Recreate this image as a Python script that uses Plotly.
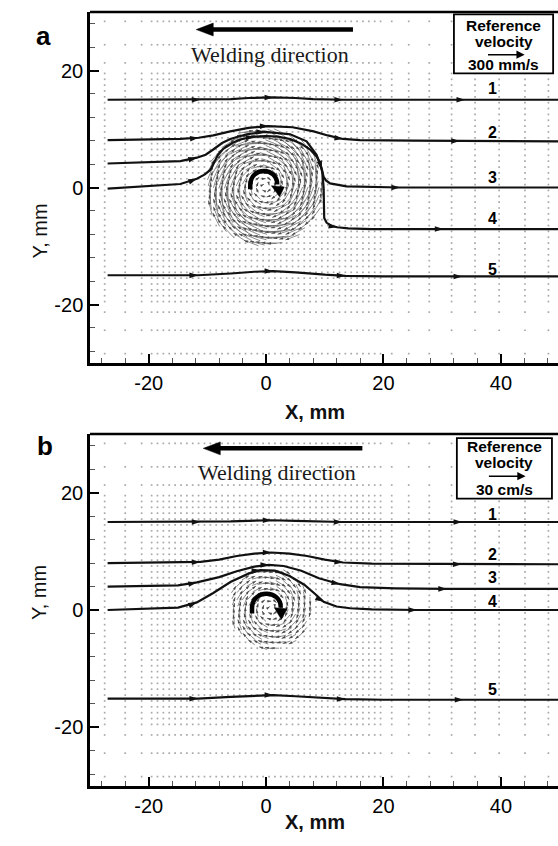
import math
import plotly.graph_objects as go

# ---------------- figure geometry ----------------
W, H = 558, 846
ML, MR, MT, MB = 90, 0, 12, 60
PW = W - ML - MR
PH = H - MT - MB
SANS = "Liberation Sans, Arial, sans-serif"
SERIF = "Liberation Serif, Times New Roman, serif"


def paper(px, py):
    return (px - ML) / PW, (H - MB - py) / PH


X_RANGE = [-30, 49.73]
Y_RANGE = [-30, 30]
X_TICKS = [-20, 0, 20, 40]
X_TICK_TEXT = ["-20", "0", "20", "40"]
Y_TICKS = [-20, 0, 20]
Y_TICK_TEXT = ["-20", "0", "20"]

# ---------------- computational mesh (node coordinates, mm) ----------------
MESH_X = [-27.5, -24.0, -21.2,
          -19.5, -18.5, -17.5, -16.5, -15.5, -14.5, -13.5, -12.5, -11.5, -10.5,
          -9.5, -8.5, -7.5, -6.5, -5.5, -4.5, -3.5, -2.5, -1.5, -0.5,
          0.5, 1.5, 2.5, 3.5, 4.5, 5.5, 6.5, 7.5, 8.5, 9.5,
          10.5, 11.5, 12.5, 13.5, 14.5, 15.5, 16.5, 17.5, 18.5, 19.5,
          21.4, 24.3, 27.8, 31.6, 35.6, 39.7, 44.1, 48.1]
MESH_Y = [-28.4, -24.4, -21.3,
          -19.5, -18.5, -17.5, -16.5, -15.5, -14.5, -13.5, -12.5, -11.5, -10.5,
          -9.5, -8.5, -7.5, -6.5, -5.5, -4.5, -3.5, -2.5, -1.5, -0.5,
          0.5, 1.5, 2.5, 3.5, 4.5, 5.5, 6.5, 7.5, 8.5, 9.5,
          10.5, 11.5, 12.5, 13.5, 14.5, 15.5, 16.5, 17.5, 18.5, 19.5,
          21.3, 24.4, 28.4]

# ---------------- vortex (swirl) ----------------
# speed of the material per 1-mm ring around the vortex centre
VORT_A_CENTER = (-0.3, 0.2)
VORT_A_RING_SPEED = [15, 40, 70, 100, 125, 145, 160, 160, 150, 120]   # mm/s
VORT_A_REF_SPEED = 300.0                                            # mm/s
VORT_B_CENTER = (0.7, 0.3)
VORT_B_RING_SPEED = [1.5, 3.5, 6.0, 8.0, 9.0, 8.5, 6.5]                # cm/s
VORT_B_REF_SPEED = 30.0                                             # cm/s
REF_ARROW_MM = 6.5
SPIRAL_TILT_DEG = 8

# ---------------- streamlines, panel a ----------------
A1X = [-27, -11.2, -6, -3, 1.2, 5, 8, 13.1, 20, 33.9, 49.73]
A1Y = [15.0, 15.0, 15.1, 15.3, 15.4, 15.3, 15.1, 15.0, 15.0, 15.0, 15.0]
A1_ARROWS = [1, 4, 7, 9]
A2X = [-27, -14.6, -11.5, -9, -6.1, -3, 0.4, 4.5, 8.1, 10.5, 13.1, 16, 25, 33, 49.73]
A2Y = [8.1, 8.3, 8.5, 8.9, 9.6, 10.2, 10.5, 10.3, 9.6, 8.9, 8.3, 8.1, 8.0, 7.95, 7.9]
A2_ARROWS = [2, 6, 10, 13]
A3X = [-27, -14.6, -11.8, -10.3, -9, -7.5, -6.1, -3.3, -0.2, 4.1, 6.9, 8.6, 9.5, 9.8,
       10.2, 10.9, 13.7, 18, 22.8, 49.73]
A3Y = [4.1, 4.5, 5.1, 5.6, 6.5, 7.6, 8.3, 9.1, 9.5, 9.1, 7.9, 5.6, 3.1, 1.8,
       1.2, 0.7, 0.2, 0.05, 0.0, 0.0]
A3_ARROWS = [2, 8, 12, 18]
A4X = [-27, -14.6, -11.8, -10.5, -9.5, -9, -8.3, -7.3, -5.8, -4.4, -2, 0, 2, 4.1, 6,
       7.5, 8.6, 9.2, 9.6, 9.8, 9.8, 9.9, 10.3, 11, 12.1, 14, 18, 30.2, 49.73]
A4Y = [-0.2, 0.6, 1.5, 2.2, 3.0, 4.0, 5.4, 6.6, 7.6, 8.2, 8.7, 8.8, 8.7, 8.3, 7.5,
       6.5, 5.3, 4.2, 2.5, 0.0, -3.0, -5.2, -6.0, -6.5, -6.8, -7.0, -7.1, -7.1, -7.1]
A4_ARROWS = [2, 10, 24, 27]
A5X = [-27, -11.6, -6, -2, 1.2, 5, 10, 13.5, 20, 33.4, 49.73]
A5Y = [-15.0, -15.0, -14.7, -14.4, -14.3, -14.5, -14.9, -15.1, -15.2, -15.2, -15.2]
A5_ARROWS = [1, 4, 7, 9]

# ---------------- streamlines, panel b ----------------
B1X = [-27, -11.2, -6, -3, 0.9, 5, 8, 13, 20, 33.4, 49.73]
B1Y = [15.0, 15.0, 15.1, 15.2, 15.3, 15.2, 15.1, 15.0, 15.0, 15.0, 15.0]
B1_ARROWS = [1, 4, 7, 9]
B2X = [-27, -11.2, -8, -5, -2, 0.9, 4, 7, 10, 13.1, 18, 33.3, 49.73]
B2Y = [8.0, 8.2, 8.6, 9.2, 9.6, 9.8, 9.6, 9.2, 8.6, 8.1, 7.9, 7.8, 7.8]
B2_ARROWS = [1, 5, 9, 11]
B3X = [-27, -15, -11.8, -8, -5, -2, 0.5, 3, 6, 9, 12.6, 16, 22, 30.8, 49.73]
B3Y = [4.0, 4.2, 4.7, 5.6, 6.6, 7.4, 7.7, 7.5, 6.7, 5.4, 4.4, 3.9, 3.7, 3.6, 3.6]
B3_ARROWS = [2, 6, 10, 13]
B4X = [-27, -15, -11.8, -9, -6, -3, -1, 1.5, 4, 6.5, 8.5, 9.8, 12, 14.3, 18, 25.7, 49.73]
B4Y = [0.0, 0.4, 1.3, 2.9, 4.8, 6.2, 6.8, 6.7, 5.8, 4.3, 2.6, 1.4, 0.6, 0.3, 0.1, 0.0, 0.0]
B4_ARROWS = [2, 6, 11, 15]
B5X = [-27, -11.6, -6, -2, 1.2, 5, 10, 13.5, 20, 33.6, 49.73]
B5Y = [-15.1, -15.1, -14.8, -14.6, -14.5, -14.7, -15.0, -15.2, -15.3, -15.3, -15.3]
B5_ARROWS = [1, 4, 7, 9]

LINE_LABELS = ["1", "2", "3", "4", "5"]
LABEL_X = 38.5
A_LABEL_Y = [16.9, 9.4, 1.7, -5.3, -14.0]
B_LABEL_Y = [16.2, 9.4, 5.5, 1.4, -13.6]

REF_TEXT = ["300 mm/s", "30 cm/s"]

fig = go.Figure()


def add_panel(xa, ya, streams, center, ring_speed, ref_speed):
    # background mesh dots
    dx, dy = [], []
    for y in MESH_Y:
        for x in MESH_X:
            r = math.hypot(x - center[0], y - center[1])
            if r < len(ring_speed):
                continue
            dx.append(x)
            dy.append(y)
    fig.add_trace(go.Scatter(x=dx, y=dy, mode="markers", xaxis=xa, yaxis=ya,
                             marker=dict(symbol="square", size=1.7, color="#a8a8a8",
                                         line=dict(width=0)),
                             hoverinfo="skip"))
    # vortex vectors
    sx, sy, hx, hy, ha = [], [], [], [], []
    tilt = math.radians(SPIRAL_TILT_DEG)
    for y in MESH_Y:
        for x in MESH_X:
            rx, ry = x - center[0], y - center[1]
            r = math.hypot(rx, ry)
            if r >= len(ring_speed) or r < 0.05:
                continue
            sp = ring_speed[int(r)]
            L = sp / ref_speed * REF_ARROW_MM
            tx, ty = ry / r, -rx / r
            nx, ny = -rx / r, -ry / r
            ux = math.cos(tilt) * tx + math.sin(tilt) * nx
            uy = math.cos(tilt) * ty + math.sin(tilt) * ny
            x0, y0 = x - 0.5 * L * ux, y - 0.5 * L * uy
            x1, y1 = x + 0.5 * L * ux, y + 0.5 * L * uy
            sx += [x0, x1, None]
            sy += [y0, y1, None]
            hx.append(x1)
            hy.append(y1)
            ha.append(90 - math.degrees(math.atan2(uy, ux)))
    fig.add_trace(go.Scatter(x=sx, y=sy, mode="lines", xaxis=xa, yaxis=ya,
                             line=dict(color="#5a5a5a", width=0.7), hoverinfo="skip"))
    fig.add_trace(go.Scatter(x=hx, y=hy, mode="markers", xaxis=xa, yaxis=ya,
                             marker=dict(symbol="arrow", size=4, angle=ha,
                                         color="#4a4a4a", line=dict(width=0)),
                             hoverinfo="skip"))
    # streamlines
    for sxl, syl, idx in streams:
        fig.add_trace(go.Scatter(x=sxl, y=syl, mode="lines", xaxis=xa, yaxis=ya,
                                 line=dict(color="#111111", width=2.2),
                                 hoverinfo="skip"))
        ax_, ay_, aa_ = [], [], []
        for i in idx:
            ddx = sxl[i + 1] - sxl[i - 1]
            ddy = syl[i + 1] - syl[i - 1]
            ax_.append(sxl[i])
            ay_.append(syl[i])
            aa_.append(90 - math.degrees(math.atan2(ddy, ddx)))
        fig.add_trace(go.Scatter(x=ax_, y=ay_, mode="markers", xaxis=xa, yaxis=ya,
                                 marker=dict(symbol="arrow", size=9, angle=aa_,
                                             color="#111111", line=dict(width=0)),
                                 hoverinfo="skip"))


add_panel("x", "y",
          [(A1X, A1Y, A1_ARROWS), (A2X, A2Y, A2_ARROWS), (A3X, A3Y, A3_ARROWS),
           (A4X, A4Y, A4_ARROWS), (A5X, A5Y, A5_ARROWS)],
          VORT_A_CENTER, VORT_A_RING_SPEED, VORT_A_REF_SPEED)
add_panel("x2", "y2",
          [(B1X, B1Y, B1_ARROWS), (B2X, B2Y, B2_ARROWS), (B3X, B3Y, B3_ARROWS),
           (B4X, B4Y, B4_ARROWS), (B5X, B5Y, B5_ARROWS)],
          VORT_B_CENTER, VORT_B_RING_SPEED, VORT_B_REF_SPEED)


def axis_common(ticks, text, rng, domain, anchor):
    return dict(range=rng, domain=domain, anchor=anchor,
                tickmode="array", tickvals=ticks, ticktext=text,
                ticks="inside", ticklen=9, tickwidth=2, tickcolor="black",
                minor=dict(ticks="inside", ticklen=5, tickwidth=1, tickcolor="#555555",
                           dtick=4, tick0=0),
                showline=True, linewidth=2.5, linecolor="black",
                showgrid=False, zeroline=False,
                tickfont=dict(family=SANS, size=20, color="black"),
                fixedrange=True)


YA_DOM = [(H - MB - 363) / PH, 1.0]
YB_DOM = [0.0, (H - MB - 434) / PH]

shapes = []
annotations = []

panels = [
    dict(x="x", y="y", weld_y=27.0, weld_tip=-11.9, weld_tail=14.8, weld_text=(0.6, 22.7),
         box=(32.0, 48.9, 19.5, 29.6), ref_y=[27.7, 25.0, 22.7, 21.0],
         labels=A_LABEL_Y, ref=REF_TEXT[0],
         curl="M -2.7,-0.3 L -2.7,0.4 C -2.7,3.6 1.9,3.6 1.9,0.5",
         head="M 0.9,0.3 L 3.1,0.1 L 2.3,-1.6 Z",
         panel_label=("a", 34, 19), xtitle_py=412, ytitle_py=202),
    dict(x="x2", y="y2", weld_y=27.55, weld_tip=-10.7, weld_tail=16.4, weld_text=(1.8, 23.5),
         box=(32.5, 48.7, 19.0, 29.3), ref_y=[27.9, 25.1, 22.8, 20.6],
         labels=B_LABEL_Y, ref=REF_TEXT[1],
         curl="M -2.4,-0.6 L -2.4,0.3 C -2.4,3.6 2.5,3.6 2.5,0.4",
         head="M 1.4,0.4 L 3.6,0.2 L 2.6,-1.6 Z",
         panel_label=("b", 34.5, 446), xtitle_py=835, ytitle_py=622.5),
]

for p in panels:
    xr, yr = p["x"], p["y"]
    # top frame line
    shapes.append(dict(type="line", xref=f"{xr} domain", yref=f"{yr} domain",
                       x0=0, x1=1, y0=1, y1=1, line=dict(color="black", width=2.5)))
    # welding direction arrow
    head_len = 2.9
    shapes.append(dict(type="line", xref=xr, yref=yr, x0=p["weld_tip"] + head_len - 0.3,
                       x1=p["weld_tail"], y0=p["weld_y"], y1=p["weld_y"],
                       line=dict(color="black", width=4.5)))
    t = p["weld_tip"]
    wy = p["weld_y"]
    shapes.append(dict(type="path", xref=xr, yref=yr,
                       path=f"M {t},{wy} L {t + head_len},{wy + 1.1} L {t + head_len},{wy - 1.1} Z",
                       fillcolor="black", line=dict(color="black", width=0.5)))
    annotations.append(dict(xref=xr, yref=yr, x=p["weld_text"][0], y=p["weld_text"][1],
                            text="Welding direction", showarrow=False,
                            font=dict(family=SERIF, size=22, color="#1a1a1a")))
    # reference velocity box
    bx0, bx1, by0, by1 = p["box"]
    shapes.append(dict(type="rect", xref=xr, yref=yr, x0=bx0, x1=bx1, y0=by0, y1=by1,
                       fillcolor="white", line=dict(color="black", width=1.8)))
    bc = (bx0 + bx1) / 2
    for txt, yy in zip(["Reference", "velocity", p["ref"]],
                       [p["ref_y"][0], p["ref_y"][1], p["ref_y"][3]]):
        annotations.append(dict(xref=xr, yref=yr, x=bc, y=yy, text=f"<b>{txt}</b>",
                                showarrow=False,
                                font=dict(family=SANS, size=15.5, color="black")))
    annotations.append(dict(xref=xr, yref=yr, axref=xr, ayref=yr,
                            x=bc + 3.6, y=p["ref_y"][2], ax=bc - 2.9, ay=p["ref_y"][2],
                            text="", showarrow=True, arrowhead=2, arrowsize=1.1,
                            arrowwidth=1.5, arrowcolor="black"))
    # streamline numbers
    for lab, ly in zip(LINE_LABELS, p["labels"]):
        annotations.append(dict(xref=xr, yref=yr, x=LABEL_X, y=ly, text=f"<b>{lab}</b>",
                                showarrow=False,
                                font=dict(family=SANS, size=16, color="black")))
    # rotation symbol
    shapes.append(dict(type="path", xref=xr, yref=yr, path=p["curl"],
                       line=dict(color="black", width=4.5)))
    shapes.append(dict(type="path", xref=xr, yref=yr, path=p["head"],
                       fillcolor="black", line=dict(color="black", width=0.5)))
    # panel letter and axis titles
    lab, lpx, lpy = p["panel_label"]
    px_, py_ = paper(lpx, lpy)
    annotations.append(dict(xref="paper", yref="paper", x=px_, y=py_, text=f"<b>{lab}</b>",
                            showarrow=False, font=dict(family=SANS, size=26, color="black")))
    px_, py_ = paper(314.5, p["xtitle_py"])
    annotations.append(dict(xref="paper", yref="paper", x=px_, y=py_, text="<b>X, mm</b>",
                            showarrow=False, font=dict(family=SANS, size=20, color="#111111")))
    px_, py_ = paper(26, p["ytitle_py"])
    annotations.append(dict(xref="paper", yref="paper", x=px_, y=py_, text="Y, mm",
                            textangle=-90, showarrow=False,
                            font=dict(family=SANS, size=20, color="#111111")))

fig.update_layout(
    width=W, height=H,
    margin=dict(l=ML, r=MR, t=MT, b=MB),
    paper_bgcolor="white", plot_bgcolor="white",
    showlegend=False,
    xaxis=axis_common(X_TICKS, X_TICK_TEXT, X_RANGE, [0, 1], "y"),
    yaxis=axis_common(Y_TICKS, Y_TICK_TEXT, Y_RANGE, YA_DOM, "x"),
    xaxis2=axis_common(X_TICKS, X_TICK_TEXT, X_RANGE, [0, 1], "y2"),
    yaxis2=axis_common(Y_TICKS, Y_TICK_TEXT, Y_RANGE, YB_DOM, "x2"),
    shapes=shapes,
    annotations=annotations,
)

fig.write_html("out.html", config=dict(displayModeBar=False))
